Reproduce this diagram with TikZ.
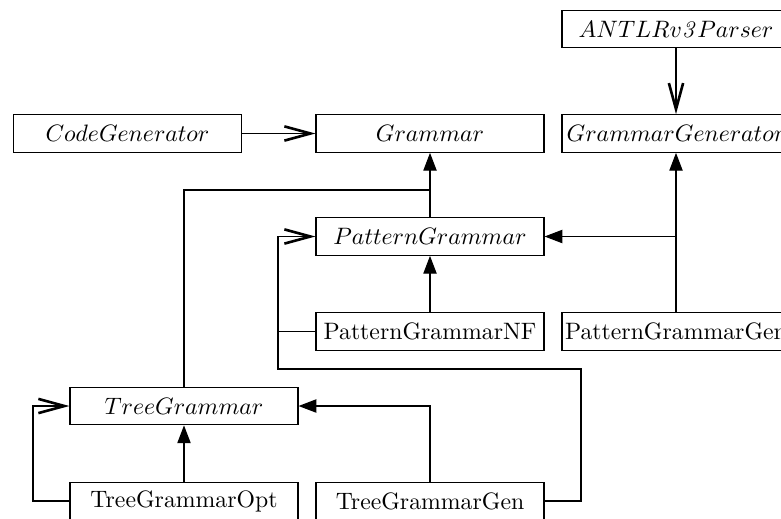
\documentclass[tikz,border=0pt]{standalone}
\usetikzlibrary{arrows.meta}
\begin{document}
\begin{tikzpicture}[x=0.4212pt,y=-0.4212pt,
  cls/.style={draw,line width=0.5pt,minimum width=96pt,minimum height=15.8pt,inner sep=0pt,anchor=center},
  conn/.style={line width=0.5pt},
  inh/.style={conn,-{Triangle[length=7.5pt,width=5.6pt]}},
  assoc/.style={conn,-{Straight Barb[length=11pt,width=6pt,line width=1.1pt]}}]
\useasboundingbox (0,0) rectangle (781,518);
\clip (0,0) rectangle (781,518);
\node[cls] (antlr) at (676,29) {$ANTLRv\mathit{3}Parser$};
\node[cls] (gg) at (676,133.5) {$GrammarGenerator$};
\node[cls] (cg) at (127.5,133.5) {$CodeGenerator$};
\node[cls] (g) at (430,133.5) {$Grammar$};
\node[cls] (pg) at (430,236.5) {$PatternGrammar$};
\node[cls] (pgnf) at (430,331.5) {PatternGrammarNF};
\node[cls] (pgg) at (676,331.5) {PatternGrammarGen};
\node[cls] (tg) at (184,406) {$TreeGrammar$};
\node[cls] (tgo) at (184,501) {TreeGrammarOpt};
\node[cls] (tgg) at (430,501) {TreeGrammarGen};
\coordinate (j1) at (430,190);
\coordinate (j2) at (676,236.5);
\coordinate (k1) at (278,331.5);
\coordinate (k2) at (581,369);
\coordinate (k3) at (278,369);
\coordinate (k4) at (33,501);
\draw[assoc] (antlr) -- (gg);
\draw[assoc] (cg) -- (g);
\draw[inh] (pg) -- (g);
\draw[conn] (tg.north) |- (j1);
\draw[inh] (pgnf) -- (pg);
\draw[inh] (pgg) -- (gg);
\draw[inh] (j2) -- (pg.east);
\draw[assoc] (pgnf.west) -- (k1) |- (pg.west);
\draw[conn] (tgg.east) -| (k2) -- (k3) -- (k1);
\draw[inh] (tgo) -- (tg);
\draw[assoc] (tgo.west) -- (k4) |- (tg.west);
\draw[inh] (tgg.north) |- (tg.east);
\end{tikzpicture}
\end{document}
